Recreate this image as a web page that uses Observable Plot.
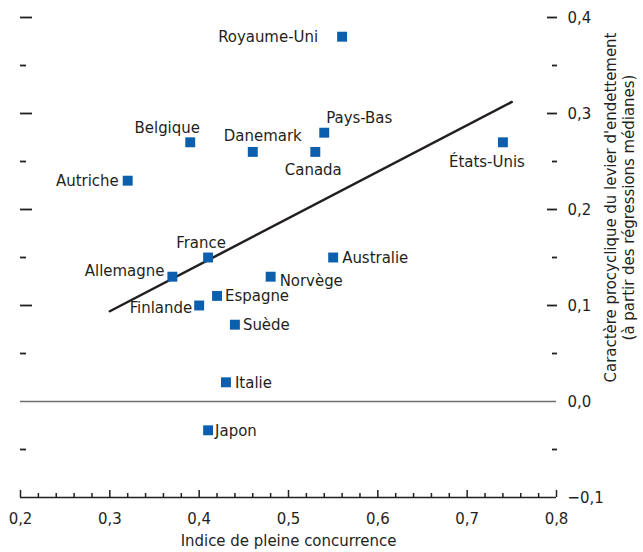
<!DOCTYPE html>
<html>
<head>
<meta charset="utf-8">
<script src="https://cdn.jsdelivr.net/npm/d3@7"></script>
<script src="https://cdn.jsdelivr.net/npm/@observablehq/plot@0.6"></script>
<style>
  html, body { margin: 0; padding: 0; background: #fff; }
  #chart svg { display: block; }
</style>
</head>
<body>
<div id="chart"></div>
<script>
// ---- Data ----
const countries = ["Royaume-Uni", "Pays-Bas", "Belgique", "Danemark", "Canada", "États-Unis",
  "Autriche", "France", "Australie", "Allemagne", "Norvège", "Espagne", "Finlande", "Suède", "Italie", "Japon"];
const competitionIndex = [0.56, 0.54, 0.39, 0.46, 0.53, 0.74,
  0.32, 0.41, 0.55, 0.37, 0.48, 0.42, 0.40, 0.44, 0.43, 0.41];
const leverageProcyclicality = [0.38, 0.28, 0.27, 0.26, 0.26, 0.27,
  0.23, 0.15, 0.15, 0.13, 0.13, 0.11, 0.10, 0.08, 0.02, -0.03];
const fitX = [0.30, 0.75];
const fitY = [0.094, 0.312];
const xMajorTicks = [0.2, 0.3, 0.4, 0.5, 0.6, 0.7, 0.8];
const xMinorTicks = [0.22, 0.24, 0.26, 0.28, 0.32, 0.34, 0.36, 0.38, 0.42, 0.44, 0.46, 0.48,
  0.52, 0.54, 0.56, 0.58, 0.62, 0.64, 0.66, 0.68, 0.72, 0.74, 0.76, 0.78];
const yMajorTicks = [0.1, 0.2, 0.3, 0.4];
const yMinorTicks = [-0.05, 0.05, 0.15, 0.25, 0.35];
const yLabelTicks = [-0.1, 0.0, 0.1, 0.2, 0.3, 0.4];
const xTitle = "Indice de pleine concurrence";
const yTitle = "Caractère procyclique du levier d'endettement\n(à partir des régressions médianes)";

// ---- Label placement (style only) ----
const placement = {
  "Royaume-Uni": {a: "end", dx: -24, dy: 0},
  "Pays-Bas": {a: "start", dx: 2, dy: -15},
  "Belgique": {a: "middle", dx: -23, dy: -15},
  "Danemark": {a: "middle", dx: 10, dy: -16},
  "Canada": {a: "middle", dx: -2, dy: 18},
  "États-Unis": {a: "middle", dx: -16, dy: 19},
  "Autriche": {a: "end", dx: -9, dy: 0},
  "France": {a: "middle", dx: -7, dy: -15},
  "Australie": {a: "start", dx: 9, dy: 0},
  "Allemagne": {a: "end", dx: -8, dy: -6},
  "Norvège": {a: "start", dx: 9, dy: 4},
  "Espagne": {a: "start", dx: 8, dy: 0},
  "Finlande": {a: "end", dx: -7, dy: 2},
  "Suède": {a: "start", dx: 8, dy: 0},
  "Italie": {a: "start", dx: 9, dy: 0},
  "Japon": {a: "start", dx: 7, dy: 0}
};

// ---- Font selection: prefer a condensed face, size it to the reference text width ----
const ctx = document.createElement("canvas").getContext("2d");
function hasFont(name) {
  const s = "Royaume-Uni mmmwwwiiilll 0,1";
  for (const base of ["monospace", "serif"]) {
    ctx.font = `40px ${base}`; const a = ctx.measureText(s).width;
    ctx.font = `40px '${name}', ${base}`; const b = ctx.measureText(s).width;
    if (Math.abs(a - b) > 0.5) return true;
  }
  return false;
}
const family = ["Liberation Sans Narrow", "Arial Narrow", "DejaVu Sans Condensed", "Liberation Sans"].find(hasFont) || "sans-serif";
ctx.font = `100px '${family}', sans-serif`;
const refWidth = ctx.measureText("Royaume-Uni").width;
const fontSize = Math.min(20, Math.max(14, 100 * 100 / refWidth));

const points = countries.map((c, i) => ({country: c, x: competitionIndex[i], y: leverageProcyclicality[i]}));
const fit = fitX.map((x, i) => ({x, y: fitY[i]}));
const comma = d => d3.format(".1f")(d).replace(".", ",").replace("-", "\u2013");

const ink = "#231f20";
const blue = "#0b5fad";

const perLabel = points.map(p => {
  const pl = placement[p.country];
  return Plot.text([p], {x: "x", y: "y", text: "country", textAnchor: pl.a, dx: pl.dx, dy: pl.dy, fill: ink});
});

const noText = () => "";

const chart = Plot.plot({
  width: 643,
  height: 552,
  marginLeft: 20,
  marginRight: 87,
  marginTop: 17,
  marginBottom: 55,
  style: {fontFamily: `'${family}', 'Liberation Sans', Arial, sans-serif`, fontSize: `${fontSize}px`, color: ink, background: "#fff"},
  x: {domain: [0.2, 0.8], axis: null},
  y: {domain: [-0.1, 0.4], axis: null},
  marks: [
    // zero line and bottom axis line
    Plot.ruleY([0], {stroke: "#6d6e71", strokeWidth: 1.5}),
    Plot.ruleY([-0.1], {stroke: ink, strokeWidth: 1.5}),
    // bottom ticks (inside)
    Plot.axisX(xMajorTicks, {anchor: "bottom", tickSize: -7, tickFormat: noText, strokeWidth: 1.5, label: null}),
    Plot.axisX(xMinorTicks, {anchor: "bottom", tickSize: -4, tickFormat: noText, strokeWidth: 1.5, label: null}),
    Plot.axisX(xMajorTicks, {anchor: "bottom", tickSize: 0, tickPadding: 15, tickFormat: comma, label: null}),
    // left ticks (inside, no labels)
    Plot.axisY(yMajorTicks, {anchor: "left", tickSize: -12, tickFormat: noText, strokeWidth: 1.8, label: null}),
    Plot.axisY(yMinorTicks, {anchor: "left", tickSize: -6, tickFormat: noText, strokeWidth: 1.8, label: null}),
    // right ticks (inside) and labels
    Plot.axisY(yMajorTicks, {anchor: "right", tickSize: -10, tickFormat: noText, strokeWidth: 1.8, label: null}),
    Plot.axisY(yMinorTicks, {anchor: "right", tickSize: -5, tickFormat: noText, strokeWidth: 1.8, label: null}),
    Plot.axisY(yLabelTicks, {anchor: "right", tickSize: 0, tickPadding: 11, tickFormat: comma, label: null}),
    // axis titles
    Plot.text([xTitle], {frameAnchor: "bottom", dy: 48, fill: ink}),
    Plot.text([yTitle], {frameAnchor: "right", textAnchor: "middle", rotate: -90, dx: 63, dy: -50, fill: ink, lineHeight: 1.05}),
    // regression line
    Plot.line(fit, {x: "x", y: "y", stroke: ink, strokeWidth: 2.5}),
    // points
    Plot.dot(points, {x: "x", y: "y", symbol: "square", r: 5.6, fill: blue, stroke: "none"}),
    ...perLabel
  ]
});

document.getElementById("chart").appendChild(chart);
</script>
</body>
</html>
